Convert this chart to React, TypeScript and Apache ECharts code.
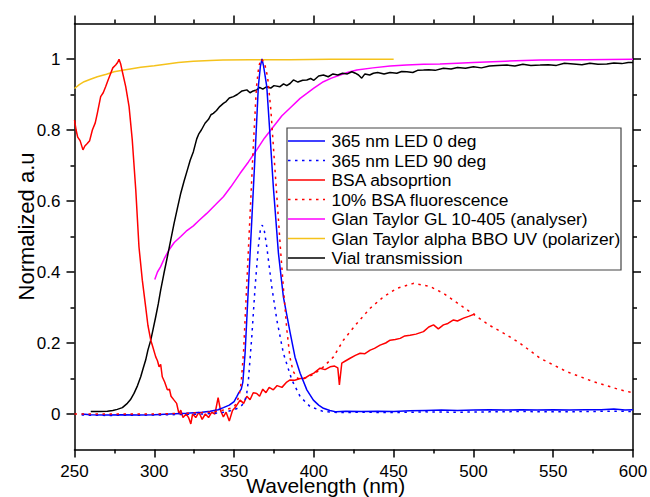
import React, { useEffect, useRef } from "react";
import * as echarts from "echarts";

const seriesNames = [
  "365 nm LED 0 deg",
  "365 nm LED 90 deg",
  "BSA absoprtion",
  "10% BSA fluorescence",
  "Glan Taylor GL 10-405 (analyser)",
  "Glan Taylor alpha BBO UV (polarizer)",
  "Vial transmission",
];
const seriesColors = ["#0000ff", "#0000ff", "#ff0000", "#ff0000", "#ff00ff", "#f5c21b", "#000000"];
const seriesDotted = [false, true, false, true, false, false, false];

const xTicks = [250, 300, 350, 400, 450, 500, 550, 600];
const yMajor = [0, 0.2, 0.4, 0.6, 0.8, 1];
const yMinor = [0.1, 0.3, 0.5, 0.7, 0.9];

const led0: [number, number][] = [
  [254.5, 0], [260, -0.002], [270, -0.003], [280, -0.002], [290, -0.003], [300, -0.002],
  [310, 0], [320, 0.002], [330, 0.005], [335, 0.008], [340, 0.012], [343.3, 0.018],
  [347, 0.025], [350, 0.035], [351.7, 0.049], [353, 0.06], [354.5, 0.07], [355.5, 0.09],
  [356.9, 0.171], [359, 0.359], [361.1, 0.546], [363.2, 0.734], [365.2, 0.922], [366.5, 0.98],
  [367.5, 1.0], [368.5, 0.98], [370.5, 0.922], [372.6, 0.781], [374.6, 0.64], [377.8, 0.453],
  [380.9, 0.33], [383, 0.28], [385.1, 0.23], [388.2, 0.16], [391.4, 0.115], [395.6, 0.068],
  [399.7, 0.039], [403, 0.025], [406, 0.016], [410, 0.01], [414, 0.006], [420, 0.008],
  [430, 0.007], [440, 0.008], [450, 0.007], [460, 0.009], [470, 0.01], [480, 0.011],
  [490, 0.01], [500, 0.011], [510, 0.012], [520, 0.011], [530, 0.012], [540, 0.011],
  [550, 0.012], [560, 0.011], [570, 0.012], [580, 0.012], [588, 0.014], [595, 0.011], [600, 0.012],
];

const led90: [number, number][] = [
  [254.5, -0.003], [270, -0.004], [300, -0.003], [330, 0], [340, 0.003], [345, 0.006],
  [350, 0.012], [353, 0.018], [355, 0.025], [356.9, 0.039], [358, 0.06], [359, 0.096],
  [361.1, 0.218], [363.2, 0.359], [365.2, 0.471], [366.5, 0.52], [367.7, 0.532], [369, 0.515],
  [370.5, 0.471], [373.6, 0.359], [376.8, 0.265], [380.9, 0.171], [386.2, 0.096], [391.4, 0.049],
  [397.6, 0.021], [406, 0.007], [415, 0.004], [430, 0.005], [450, 0.004], [470, 0.006],
  [490, 0.005], [510, 0.006], [530, 0.007], [550, 0.006], [570, 0.007], [590, 0.008], [600, 0.007],
];

const bsaAbs: [number, number][] = [
  [250, 0.828], [251, 0.8], [252, 0.78], [253.5, 0.77], [255.3, 0.744], [256.5, 0.755],
  [258, 0.762], [259.5, 0.77], [261.2, 0.8], [263, 0.82], [264.3, 0.847], [266.4, 0.894],
  [268, 0.905], [269.5, 0.922], [271, 0.94], [272.7, 0.96], [274, 0.975], [275.8, 0.983],
  [277, 0.99], [277.9, 0.999], [279, 0.985], [280, 0.964], [282.1, 0.922], [284.2, 0.866],
  [286.2, 0.772], [288.4, 0.631], [290.4, 0.471], [292.5, 0.377], [294.6, 0.302], [296, 0.25],
  [297.8, 0.208], [299, 0.19], [300.9, 0.161], [302, 0.15], [303, 0.133], [304, 0.14],
  [305, 0.105], [306.5, 0.09], [308.2, 0.068], [309.5, 0.07], [310.5, 0.05], [312.4, 0.039],
  [314, 0.03], [315.5, 0], [316.6, 0.011], [318, -0.01], [320, 0], [321.5, -0.01],
  [322.9, -0.028], [324, 0], [326, -0.01], [328, 0.005], [330, -0.015], [332, 0],
  [334, -0.01], [336, 0.005], [338, 0], [340, 0.046], [341.5, 0.01], [343.3, -0.008],
  [345, 0.005], [347, -0.02], [349, 0.01], [351, 0.02], [353.8, 0.039], [356, 0.03],
  [358, 0.05], [360, 0.04], [362, 0.06], [364.2, 0.058], [366, 0.05], [368, 0.07],
  [370, 0.06], [372, 0.075], [374.6, 0.068], [377, 0.08], [380, 0.075], [383, 0.09],
  [385.1, 0.096], [388, 0.095], [391.4, 0.1], [394, 0.1], [397.6, 0.11], [400, 0.115],
  [403.9, 0.129], [407, 0.125], [410.2, 0.133], [413, 0.135], [415, 0.13], [416, 0.082],
  [417.5, 0.143], [420, 0.15], [422.7, 0.157], [426, 0.165], [429, 0.171], [432, 0.17],
  [435.3, 0.18], [438, 0.185], [441.5, 0.194], [445, 0.2], [447.8, 0.208], [451, 0.21],
  [454.1, 0.213], [457, 0.22], [460.3, 0.222], [464, 0.225], [468.7, 0.232], [472, 0.245],
  [475, 0.251], [478, 0.24], [481.2, 0.251], [484, 0.255], [487.5, 0.265], [490, 0.262],
  [493.8, 0.27], [497, 0.275], [501, 0.282],
];

const bsaFluor: [number, number][] = [
  [250, 0], [270, 0], [300, 0], [320, 0.002], [335, 0.005], [345, 0.012], [350, 0.02],
  [352, 0.035], [353.5, 0.06], [354.5, 0.09], [356, 0.18], [358, 0.37], [360, 0.56],
  [362, 0.75], [364, 0.92], [365.5, 0.98], [367, 1.0], [369, 0.99], [371, 0.95], [373, 0.86],
  [375, 0.73], [377, 0.6], [379, 0.47], [381, 0.35], [383, 0.24], [385, 0.16], [387, 0.12],
  [390, 0.1], [395, 0.102], [400, 0.112], [406, 0.133], [412.3, 0.161], [418.5, 0.208],
  [426.9, 0.255], [435.3, 0.298], [443.6, 0.33], [452, 0.354], [462.4, 0.368], [472.9, 0.359],
  [481.2, 0.34], [491.7, 0.307], [502.2, 0.274], [510, 0.25], [520, 0.225], [529.3, 0.199],
  [541.8, 0.157], [558.6, 0.119], [575.3, 0.091], [592, 0.068], [600, 0.06],
];

const glAnalyser: [number, number][] = [
  [300.3, 0.379], [302, 0.4], [304, 0.415], [306.5, 0.44], [309.2, 0.462], [312.5, 0.483],
  [316.6, 0.5], [320, 0.515], [324.5, 0.53], [328, 0.545], [332.9, 0.565], [338, 0.588],
  [343.3, 0.612], [348, 0.64], [353.8, 0.678], [359, 0.71], [364.2, 0.744], [369, 0.777],
  [374.6, 0.809], [380, 0.84], [385.1, 0.862], [391.4, 0.889], [395.6, 0.903], [400, 0.918],
  [406, 0.936], [411, 0.946], [416.5, 0.955], [421, 0.962], [426.9, 0.969], [437, 0.975],
  [447.8, 0.98], [458, 0.983], [468.7, 0.985], [479, 0.986], [490, 0.988], [500, 0.99],
  [520, 0.994], [541.8, 0.997], [570, 0.998], [600, 0.999],
];

const bboPolarizer: [number, number][] = [
  [250, 0.917], [253, 0.928], [256, 0.936], [260, 0.943], [264.3, 0.95], [270, 0.957],
  [274.8, 0.964], [280, 0.968], [285, 0.972], [291.5, 0.977], [300, 0.981], [308.2, 0.986],
  [315, 0.99], [324.5, 0.994], [335, 0.996], [343, 0.997], [360, 0.998], [385, 0.998],
  [410, 0.999], [430, 0.999], [450, 0.999],
];

const vial: [number, number][] = [
  [260.2, 0.007], [265, 0.007], [270.6, 0.008], [274, 0.01], [276.8, 0.013], [280, 0.018],
  [283.1, 0.03], [285, 0.04], [287.3, 0.058], [289.5, 0.08], [291.5, 0.105], [293, 0.128],
  [294.6, 0.152], [296, 0.18], [297.8, 0.208], [299.3, 0.24], [300.9, 0.274], [302.5, 0.31],
  [304, 0.349], [306, 0.395], [308.2, 0.443], [310.3, 0.49], [312.4, 0.537], [314.5, 0.58],
  [316.6, 0.622], [318.6, 0.655], [320.7, 0.687], [322.5, 0.715], [324.5, 0.739], [326.6, 0.775],
  [328, 0.79], [329.5, 0.8], [331.8, 0.819], [334, 0.83], [335.5, 0.843], [337, 0.847],
  [339, 0.855], [341, 0.866], [343.3, 0.875], [345, 0.88], [347, 0.89], [349.6, 0.894],
  [352, 0.9], [355, 0.91], [358, 0.913], [360, 0.905], [362, 0.91], [364.2, 0.913],
  [366, 0.92], [368, 0.915], [370.5, 0.922], [373, 0.918], [375, 0.925], [378.8, 0.922],
  [381, 0.93], [383, 0.925], [385.1, 0.931], [387.2, 0.941], [390, 0.935], [393, 0.94],
  [395.6, 0.941], [398, 0.945], [400, 0.94], [403, 0.952], [406, 0.955], [409, 0.95],
  [412, 0.958], [415, 0.955], [418, 0.96], [421, 0.958], [423.8, 0.964], [426, 0.96],
  [428, 0.955], [430, 0.946], [432, 0.958], [435, 0.955], [437.3, 0.96], [440, 0.962],
  [444, 0.958], [447.8, 0.962], [452, 0.96], [455, 0.965], [458.3, 0.964], [462, 0.962],
  [465, 0.968], [468.7, 0.969], [472, 0.97], [476, 0.968], [481.2, 0.974], [486, 0.972],
  [490, 0.976], [495, 0.974], [500, 0.978], [505, 0.975], [510, 0.98], [515, 0.982],
  [521, 0.983], [526, 0.98], [531, 0.985], [536, 0.982], [541.8, 0.983], [547, 0.984],
  [552, 0.982], [557, 0.988], [562.7, 0.986], [568, 0.984], [573, 0.988], [578, 0.985],
  [583.6, 0.986], [588, 0.989], [593, 0.987], [597, 0.99], [600, 0.99],
];

const FONT = "'Liberation Sans', Arial, sans-serif";
const DOT_DASH = [2.5, 4.5];

export default function App() {
  const ref = useRef<HTMLDivElement>(null);
  useEffect(() => {
    if (!ref.current) return;
    const chart = echarts.init(ref.current, undefined, { renderer: "svg" });
    const axisLineStyle = { color: "#000", width: 1.5 };
    const xCommon = (pos: "bottom" | "top", labels: boolean) => ({
      type: "value",
      position: pos,
      min: 250,
      max: 600,
      interval: 50,
      axisLine: { show: true, onZero: false, lineStyle: axisLineStyle },
      axisTick: { show: true, inside: false, length: 8, lineStyle: axisLineStyle },
      minorTick: { show: true, splitNumber: 2, length: 4, lineStyle: axisLineStyle },
      splitLine: { show: false },
      minorSplitLine: { show: false },
      axisLabel: { show: labels, fontSize: 17, color: "#000", margin: 13, fontFamily: FONT,
        customValues: xTicks },
    });
    const yCommon = (pos: "left" | "right", ticks: number[], len: number, line: boolean, labels: boolean) => ({
      type: "value",
      position: pos,
      min: -0.1,
      max: 1.1,
      axisLine: { show: line, onZero: false, lineStyle: axisLineStyle },
      axisTick: { show: true, inside: false, length: len, lineStyle: axisLineStyle, customValues: ticks },
      splitLine: { show: false },
      axisLabel: { show: labels, fontSize: 17, color: "#000", margin: 14, fontFamily: FONT,
        customValues: yMajor, formatter: (v: number) => String(Math.round(v * 10) / 10) },
    });
    const mk = (idx: number, data: [number, number][]) => ({
      name: seriesNames[idx],
      type: "line",
      data,
      symbol: "none",
      showSymbol: false,
      smooth: false,
      xAxisIndex: 0,
      yAxisIndex: 0,
      lineStyle: { color: seriesColors[idx], width: 1.5, type: seriesDotted[idx] ? DOT_DASH : "solid" },
      itemStyle: { color: seriesColors[idx] },
    });

    // legend drawn as a boxed list
    const lgX = 287, lgY = 128, lgW = 334, lgH = 142, rowY0 = 141, rowStep = 19.5;
    const legendEls: any[] = [
      {
        type: "rect",
        shape: { x: lgX, y: lgY, width: lgW, height: lgH },
        style: { fill: "#fff", stroke: "#444", lineWidth: 1.2 },
        z: 100,
      },
    ];
    seriesNames.forEach((n, i) => {
      const y = rowY0 + rowStep * i;
      legendEls.push({
        type: "line",
        shape: { x1: lgX + 1, y1: y, x2: lgX + 38, y2: y },
        style: {
          stroke: seriesColors[i],
          lineWidth: 1.5,
          lineDash: seriesDotted[i] ? DOT_DASH : null,
        },
        z: 101,
      });
      legendEls.push({
        type: "text",
        x: lgX + 44.5,
        y,
        style: {
          text: n,
          fill: "#000",
          font: `17.4px ${FONT}`,
          verticalAlign: "middle",
          align: "left",
        },
        z: 101,
      });
    });

    chart.setOption({
      animation: false,
      textStyle: { fontFamily: FONT },
      grid: { left: 74.5, right: 17, top: 23.5, bottom: 47.5, containLabel: false, outerBoundsMode: "none" },
      xAxis: [
        {
          ...xCommon("bottom", true),
          name: "Wavelength (nm)",
          nameLocation: "middle",
          nameGap: 25,
          nameMoveOverlap: false,
          nameTextStyle: { fontSize: 21, color: "#000", fontFamily: FONT, padding: [0, 56, 0, 0] },
        },
        xCommon("top", false),
      ],
      yAxis: [
        {
          ...yCommon("left", yMajor, 8, true, true),
          name: "Normalized a.u",
          nameLocation: "middle",
          nameGap: 37,
          nameMoveOverlap: false,
          nameTextStyle: { fontSize: 22, color: "#000", fontFamily: FONT, padding: [0, 0, 0, 20] },
        },
        yCommon("left", yMinor, 4, false, false),
        yCommon("right", yMajor, 8, true, false),
        yCommon("right", yMinor, 4, false, false),
      ],
      graphic: legendEls,
      series: [
        mk(5, bboPolarizer),
        mk(4, glAnalyser),
        mk(6, vial),
        mk(2, bsaAbs),
        mk(0, led0),
        mk(1, led90),
        mk(3, bsaFluor),
      ],
    });
    return () => chart.dispose();
  }, []);
  return (
    <div style={{ position: "fixed", left: 0, top: 0, width: 650, height: 497, background: "#fff" }}>
      <div ref={ref} style={{ width: 650, height: 497 }} />
    </div>
  );
}
